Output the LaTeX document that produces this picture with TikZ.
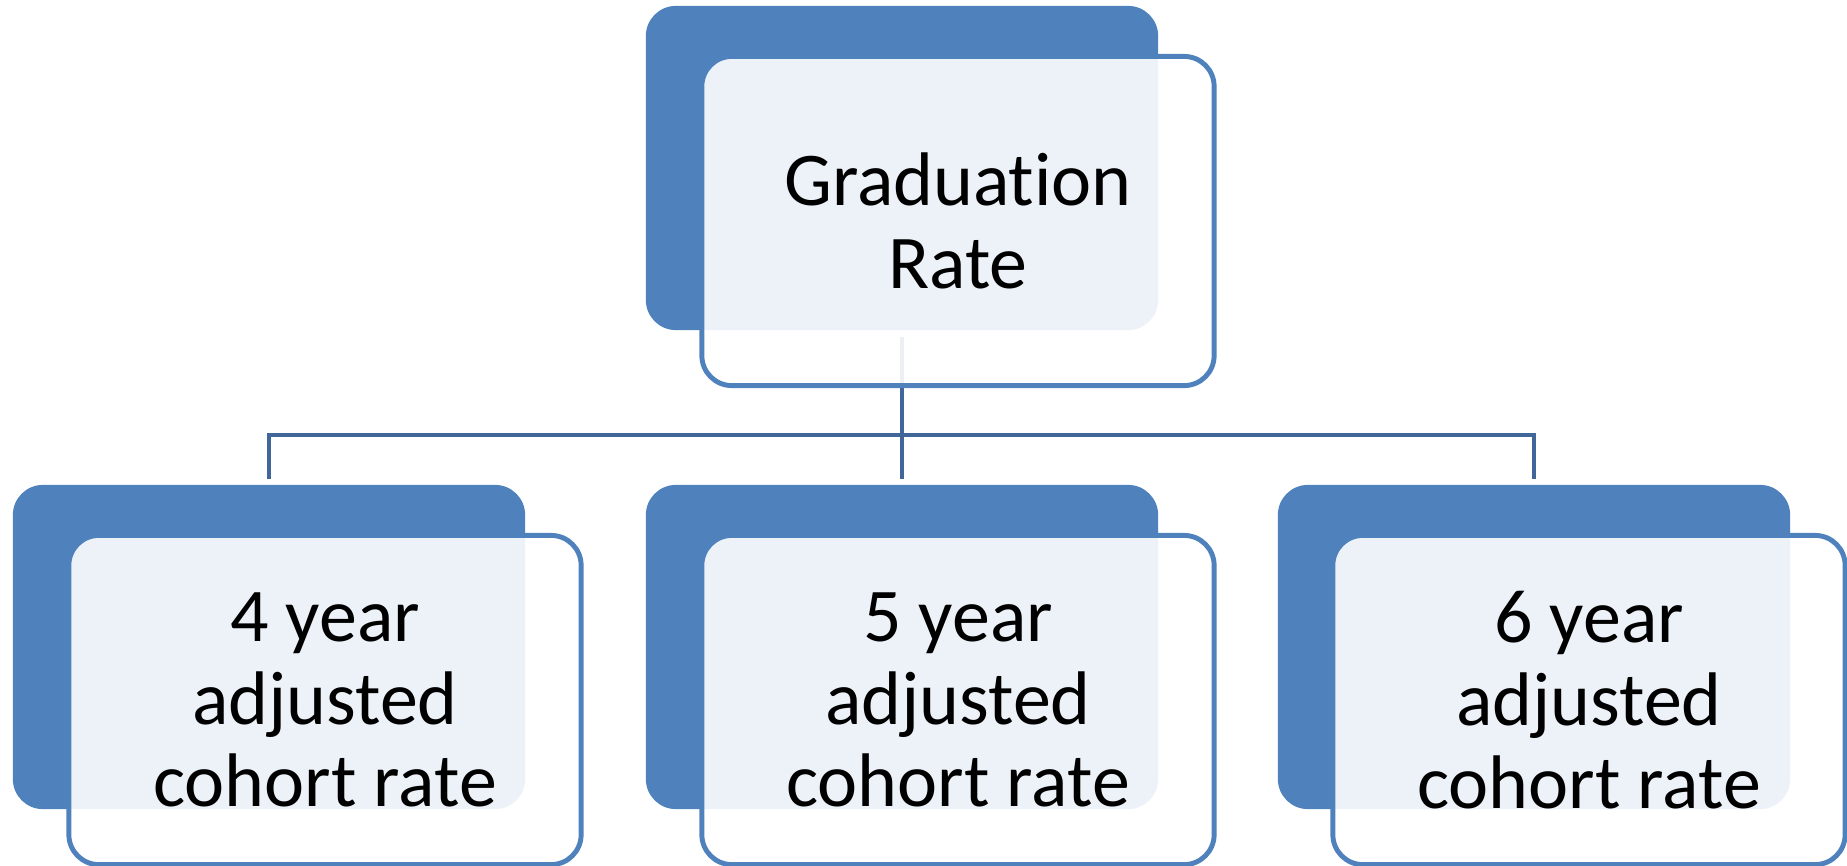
\documentclass[tikz,border=0pt]{standalone}
\usepackage{fontspec}
\setmainfont{Carlito}[RawFeature={-liga;-clig;-calt;-dlig}]
\usepackage{tikz}
\usetikzlibrary{calc}
\definecolor{boxblue}{HTML}{4F81BD}
\definecolor{linkblue}{HTML}{41679A}
\tikzset{
	backbox/.style={fill=boxblue, rounded corners=0.3cm, minimum width=5.12cm, minimum height=3.24cm, inner sep=0pt},
	frontbox/.style={draw=boxblue, line width=1.4pt, fill=white, fill opacity=0.9, text opacity=1, rounded corners=0.3cm, minimum width=5.12cm, minimum height=3.29cm, inner sep=0pt, align=center, font=\fontsize{21.6}{23.5}\selectfont},
	link/.style={draw=linkblue, line width=1.3pt}
}

\begin{document}
\begin{tikzpicture}[x=0.01cm, y=-0.01cm]
			%%%%% START %%%%%
			\useasboundingbox (0, 0) rectangle (1847, 866);
			
			\node[backbox] (grad) at (902, 168) {};
			\node[backbox] (yr4) at (269, 647) {};
			\node[backbox] (yr5) at (902, 647) {};
			\node[backbox] (yr6) at (1534, 647) {};
			
			\coordinate (hub) at (902, 435);
			\draw[link] ($(grad.south)+(0, 6)$) -- (hub);
			\draw[link] ($(yr4.north)+(0, -5)$) |- (hub) -| ($(yr6.north)+(0, -5)$);
			\draw[link] (hub) -- ($(yr5.north)+(0, -5)$);
			
			\node[frontbox] (gradf) at ($(grad)+(56, 53)$) {Graduation\\Rate};
			\node[frontbox] (yr4f) at ($(yr4)+(56, 53)$) {4 year\\adjusted\\cohort rate};
			\node[frontbox] (yr5f) at ($(yr5)+(56, 53)$) {5 year\\adjusted\\cohort rate};
			\node[frontbox] (yr6f) at ($(yr6)+(55, 53)$) {6 year\\adjusted\\cohort rate};
			
			%%%%% END %%%%%
\end{tikzpicture}
\end{document}
